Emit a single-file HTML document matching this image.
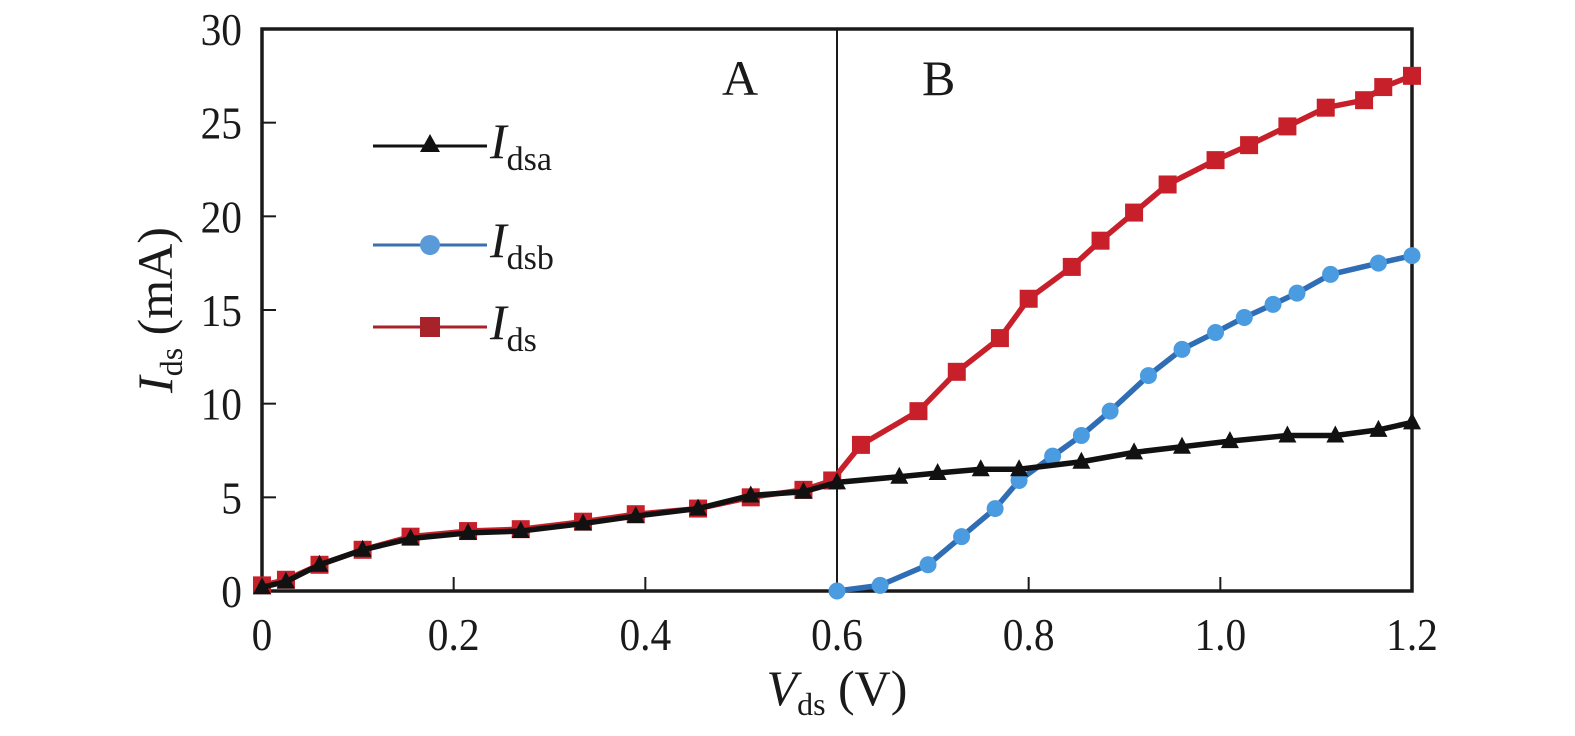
<!DOCTYPE html>
<html><head><meta charset="utf-8"><style>
html,body{margin:0;padding:0;background:#fff;}
svg{display:block;font-family:"Liberation Serif",serif;}
</style></head><body>
<svg id="chart" width="1575" height="736" viewBox="0 0 1575 736" xmlns="http://www.w3.org/2000/svg">
</svg>
<script>
const xTicks=[0,0.2,0.4,0.6,0.8,1.0,1.2];
const xTickLabels=["0","0.2","0.4","0.6","0.8","1.0","1.2"];
const yTicks=[0,5,10,15,20,25,30];
const yTickLabels=["0","5","10","15","20","25","30"];
const idsX=[0,0.025,0.06,0.105,0.155,0.215,0.27,0.335,0.39,0.455,0.51,0.565,0.595,0.625,0.685,0.725,0.77,0.80,0.845,0.875,0.91,0.945,0.995,1.03,1.07,1.11,1.15,1.17,1.2];
const idsY=[0.3,0.6,1.4,2.2,2.9,3.2,3.3,3.7,4.1,4.4,5.0,5.4,5.9,7.8,9.6,11.7,13.5,15.6,17.3,18.7,20.2,21.7,23.0,23.8,24.8,25.8,26.2,26.9,27.5];
const idsaX=[0,0.025,0.06,0.105,0.155,0.215,0.27,0.335,0.39,0.455,0.51,0.565,0.6,0.665,0.705,0.75,0.79,0.855,0.91,0.96,1.01,1.07,1.12,1.165,1.2];
const idsaY=[0.2,0.5,1.4,2.2,2.8,3.1,3.2,3.6,4.0,4.4,5.1,5.3,5.8,6.1,6.3,6.5,6.5,6.9,7.4,7.7,8.0,8.3,8.3,8.6,9.0];
const idsbX=[0.6,0.645,0.695,0.73,0.765,0.79,0.825,0.855,0.885,0.925,0.96,0.995,1.025,1.055,1.08,1.115,1.165,1.2];
const idsbY=[0,0.3,1.4,2.9,4.4,5.9,7.2,8.3,9.6,11.5,12.9,13.8,14.6,15.3,15.9,16.9,17.5,17.9];
const dividerX=0.6;

const NS="http://www.w3.org/2000/svg";
const svg=document.getElementById('chart');
const X0=262,X1=1412,Y0=591,Y1=29;
const sx=v=>X0+(v-0)/(1.2-0)*(X1-X0);
const sy=v=>Y0-(v-0)/(30-0)*(Y0-Y1);
function mk(tag,attrs,parent){const e=document.createElementNS(NS,tag);for(const k in attrs)e.setAttribute(k,attrs[k]);(parent||svg).appendChild(e);return e;}

const frame=mk('rect',{x:X0,y:Y1,width:X1-X0,height:Y0-Y1,fill:'none',stroke:'#1a1a1a','stroke-width':3.5});


const div=mk('line',{x1:sx(dividerX),x2:sx(dividerX),y1:Y1,y2:Y0,stroke:'#1a1a1a','stroke-width':2});



xTicks.forEach((t,i)=>{
  const l=mk('line',{x1:sx(t),x2:sx(t),y1:Y0,y2:Y0-14,stroke:'#1a1a1a','stroke-width':2});
  
  
  const tx=mk('text',{x:0,y:0,'font-size':46,'text-anchor':'middle',fill:'#1a1a1a',transform:`translate(${sx(t)},650) scale(0.9,1)`});
  tx.textContent=xTickLabels[i];
  
  
});
yTicks.forEach((t,i)=>{
  const l=mk('line',{x1:X0,x2:X0+14,y1:sy(t),y2:sy(t),stroke:'#1a1a1a','stroke-width':2});
  
  
  const tx=mk('text',{x:0,y:0,'font-size':46,'text-anchor':'end',fill:'#1a1a1a',transform:`translate(242,${sy(t)+16}) scale(0.9,1)`});
  tx.textContent=yTickLabels[i];
  
  
});

function series(xs,ys,color,mcolor,marker,name){
  const pts=xs.map((x,i)=>sx(x)+','+sy(ys[i])).join(' ');
  const pl=mk('polyline',{points:pts,fill:'none',stroke:color,'stroke-width':5.5,'stroke-linejoin':'round','stroke-linecap':'round'});
  
  
  xs.forEach((x,i)=>{
    const cx=sx(x),cy=sy(ys[i]);let m;
    if(marker==='sq')m=mk('rect',{x:cx-9,y:cy-9,width:18,height:18,fill:mcolor});
    else if(marker==='ci')m=mk('circle',{cx:cx,cy:cy,r:8.5,fill:mcolor});
    else m=mk('polygon',{points:`${cx},${cy-10} ${cx-9},${cy+7} ${cx+9},${cy+7}`,fill:mcolor});
    
    
  });
}
series(idsX,idsY,'#c8202a','#c8202a','sq','ids');
series(idsbX,idsbY,'#2f6db5','#4a9be0','ci','idsb');
series(idsaX,idsaY,'#111','#111','tr','idsa');

const leg=[['#111','#111','tr','dsa',146],['#3a70b0','#5a9ad8','ci','dsb',245],['#a8222a','#a8222a','sq','ds',327]];
leg.forEach(([c,mc,mkr,sub,y])=>{
  const l=mk('line',{x1:373,x2:487,y1:y,y2:y,stroke:c,'stroke-width':3});
  
  
  let m;
  if(mkr==='sq')m=mk('rect',{x:420,y:y-10,width:20,height:20,fill:mc});
  else if(mkr==='ci')m=mk('circle',{cx:430,cy:y,r:10,fill:mc});
  else m=mk('polygon',{points:`430,${y-12} 420,${y+6} 440,${y+6}`,fill:mc});
  
  
  const t=mk('text',{x:490,y:y+12,'font-size':50,fill:'#1a1a1a'});
  t.innerHTML='<tspan font-style="italic">I</tspan><tspan font-size="34" dy="12">'+sub+'</tspan>';
  
  
});
</script>
<svg style="position:absolute;left:0;top:0" width="1575" height="736">
<text x="722" y="95" font-size="50" font-family="Liberation Serif,serif" fill="#1a1a1a">A</text>
<text x="922" y="95" font-size="50" font-family="Liberation Serif,serif" fill="#1a1a1a">B</text>
<text x="837" y="705" font-size="50" text-anchor="middle" font-family="Liberation Serif,serif" fill="#1a1a1a"><tspan font-style="italic">V</tspan><tspan font-size="32" dy="10">ds</tspan><tspan dy="-10"> (V)</tspan></text>
<text transform="translate(172,310) rotate(-90)" font-size="50" text-anchor="middle" font-family="Liberation Serif,serif" fill="#1a1a1a"><tspan font-style="italic">I</tspan><tspan font-size="32" dy="10">ds</tspan><tspan dy="-10"> (mA)</tspan></text>
</svg>
</body></html>
